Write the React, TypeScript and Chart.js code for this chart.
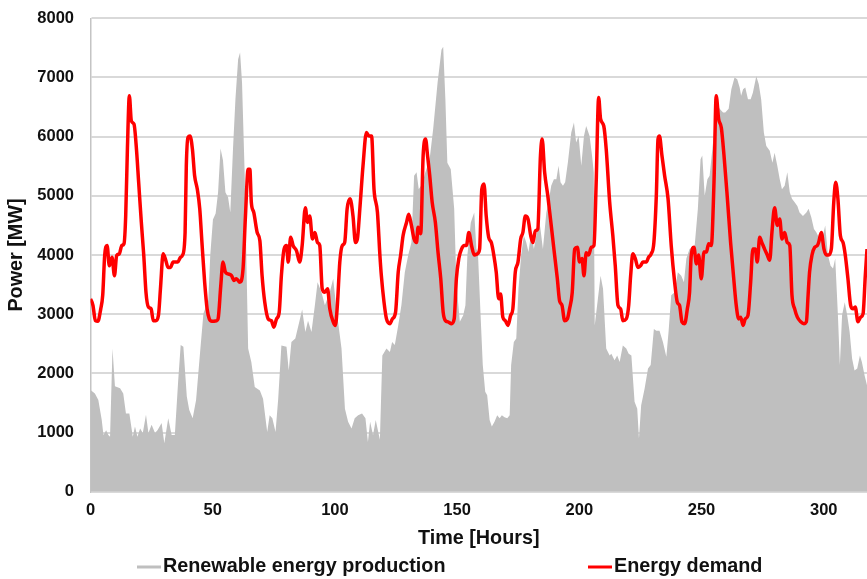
import React, { useEffect, useRef } from "react";
import { Chart, registerables } from "chart.js";

Chart.register(...registerables);

const seriesLabels = ["Renewable energy production", "Energy demand"];
const xAxisTitle = "Time [Hours]";
const yAxisTitle = "Power [MW]";

const demandHours = [
  0, 1, 2, 3, 4.2, 5, 5.8, 6.8, 7.7, 8.8, 9.8, 10.7, 11.8, 12.8, 13.7, 14.4, 15.1, 15.9, 16.7, 17.8,
  18.8, 19.7, 20.8, 21.8, 22.7, 23.7, 24.8, 25.7, 26.7, 27.8, 28.7, 29.7, 30.8, 31.7, 32.7, 33.8, 35.7, 36.8, 37.7, 38.7,
  39.2, 39.9, 40.7, 41.7, 42.6, 43.7, 44.7, 45.6, 46.7, 47.7, 48.6, 49.7, 51.6, 52.2, 53.3, 54.2, 55.2, 56.3, 57.7, 58.7,
  59.7, 61.1, 62.4, 63.4, 64.5, 65.2, 65.8, 66.8, 68.2, 69.3, 70.2, 71.3, 72.7, 74.0, 75, 76.1, 77.2, 78.1, 79.2, 80.2,
  80.9, 81.9, 82.9, 84.3, 85.6, 86.6, 87.9, 88.8, 89.7, 90.8, 91.8, 92.9, 93.8, 94.8, 95.9, 97, 97.9, 99.3, 100.2, 101,
  102, 103, 104, 105, 106.2, 107.4, 108.4, 109.2, 110.2, 111.5, 112.9, 113.9, 115, 116, 117.4, 118.4, 119, 120.1, 121.1, 122.5,
  123.5, 124.8, 125.9, 126.9, 127.9, 129.3, 130.2, 131.3, 132.4, 133.4, 134, 135.1, 136.1, 137.1, 137.9, 138.8, 139.8, 141.1, 142.2, 143.3,
  144.3, 145.2, 146.3, 147.7, 148.8, 149.7, 150.7, 151.8, 152.9, 153.8, 154.8, 155.9, 157, 158.3, 159.2, 160.1, 161, 161.9, 162.9, 164,
  165, 166, 167, 167.8, 168.7, 169.7, 170.8, 171.9, 172.8, 173.8, 174.9, 176, 176.9, 177.9, 179, 180.1, 181, 182, 183, 184.1,
  184.8, 185.8, 187.1, 188.2, 189.6, 191, 191.9, 192.9, 194, 195.1, 196, 197.1, 198.1, 199.2, 200.1, 201.1, 201.9, 202.8, 203.8, 204.9,
  206, 206.9, 207.9, 208.7, 210, 211, 212.4, 213.7, 214.7, 215.8, 216.9, 217.8, 219.2, 220.2, 221, 221.9, 222.9, 224, 225.1, 226,
  227.4, 228.3, 229.4, 230.5, 231.5, 232.2, 232.8, 233.8, 234.9, 236.3, 237.6, 239, 240.1, 241, 242, 243.1, 244.2, 245.1, 245.8, 246.9,
  247.9, 248.8, 249.9, 251, 252, 252.9, 254, 255.1, 256, 257, 258.1, 259.2, 260.5, 261.9, 263.3, 264.2, 265.2, 266, 267, 267.9,
  269, 270.1, 271, 272, 272.8, 273.8, 274.7, 275.8, 276.9, 277.9, 278.8, 279.9, 281, 282, 282.9, 284, 285.1, 286.1, 287, 288.1,
  289.2, 290.6, 291.9, 292.9, 293.6, 294.2, 295.2, 296.3, 297.4, 297.9, 299, 300.1, 301.1, 302, 303.1, 304.1, 304.9, 305.8, 306.8, 307.9,
  308.8, 309.9, 311, 312, 312.9, 314, 315.1, 316.1, 317, 317.7
];
const demandMW = [
  3260, 3150, 2890, 2880, 3090, 3320, 3990, 4160, 3820, 3960, 3650, 3990, 4020, 4160, 4190, 4660, 5790, 6690, 6270, 6210,
  5790, 5230, 4550, 3990, 3370, 3120, 3090, 2890, 2890, 2980, 3480, 4020, 3910, 3790, 3790, 3880, 3880, 3960, 4000, 4380,
  5510, 5990, 6010, 5790, 5340, 5110, 4780, 4210, 3540, 3090, 2920, 2880, 2890, 2920, 3480, 3880, 3710, 3680, 3650, 3570,
  3600, 3540, 3760, 4660, 5450, 5450, 4890, 4720, 4380, 4240, 3650, 3200, 2920, 2890, 2780, 2920, 3030, 3650, 4100, 4160,
  3880, 4300, 4160, 4070, 3880, 4160, 4800, 4550, 4660, 4270, 4380, 4210, 4160, 3430, 3370, 3430, 3090, 2870, 2810, 3150,
  3880, 4160, 4210, 4780, 4950, 4660, 4210, 4270, 4780, 5510, 6070, 6010, 6010, 5110, 4720, 4000, 3650, 3200, 2920, 2840,
  2920, 3030, 3710, 4000, 4330, 4550, 4690, 4500, 4270, 4210, 4470, 4360, 5680, 5960, 5680, 5340, 4890, 4550, 4040, 3600,
  3030, 2890, 2870, 2840, 2920, 3600, 3940, 4100, 4160, 4160, 4380, 4160, 4000, 4020, 4100, 5110, 5200, 4660, 4300, 4210,
  4000, 3710, 3260, 3340, 2950, 2890, 2810, 2980, 3090, 3710, 3880, 4270, 4380, 4660, 4610, 4330, 4210, 4410, 4440, 5680,
  5960, 5400, 5000, 4610, 4100, 3600, 3230, 3150, 2890, 2920, 3090, 3370, 4100, 4130, 3880, 3940, 3650, 4040, 4000, 4130,
  4160, 5230, 6660, 6300, 6180, 5790, 4900, 4330, 3820, 3150, 3090, 2890, 2920, 3150, 3650, 4020, 3940, 3790, 3820, 3880,
  3880, 3960, 4020, 4210, 5000, 5960, 6010, 5680, 5340, 4950, 4160, 3540, 3200, 3150, 2870, 2840, 3090, 3370, 4000, 4130,
  3850, 4000, 3600, 4050, 4050, 4190, 4160, 5230, 6690, 6300, 6150, 5680, 5000, 4210, 3540, 3150, 2920, 2950, 2810, 2920,
  2980, 3540, 4100, 4100, 3880, 4300, 4210, 4100, 4000, 3910, 4380, 4800, 4500, 4610, 4270, 4380, 4210, 4160, 3320, 3090,
  2950, 2870, 2840, 2870, 3320, 3710, 4000, 4130, 4160, 4210, 4380, 4100, 4000, 4000, 4100, 4890, 5230, 4950, 4330, 4210,
  4000, 3600, 3150, 3090, 3120, 2870, 2950, 3010, 3650, 4100
];

const renewableHours = [
  0, 1.8, 3.2, 4.6, 5.3, 6.4, 7.3, 8.0, 9.0, 10, 12.1, 13.4, 14.5, 15.9, 17.3, 18.2, 19.2, 20.3, 21.4, 22.7,
  23.7, 25.0, 26.4, 27.4, 29.1, 30.2, 31.8, 33.2, 34.5, 35.9, 36.9, 38.0, 39.4, 40.4, 41.8, 43.2, 44.8, 46.2, 48.2, 49,
  50.1, 51.2, 52.2, 53.2, 54.2, 55.2, 56.3, 57.2, 58.3, 59.3, 60.4, 61.2, 62, 63.1, 64.5, 65.8, 67.2, 69.3, 70.6, 72.3,
  73.3, 74.4, 75.7, 76.8, 78.1, 80.2, 81.1, 82.2, 83.8, 85.6, 86.6, 87.9, 89, 90.4, 91.8, 92.9, 94.5, 95.9, 97.9, 99.3,
  100.6, 102.7, 104.1, 105.4, 106.8, 108.1, 109.5, 111.1, 112.5, 113.5, 114.4, 115.6, 116.7, 118.4, 119.4, 121.1, 122.5, 123.4, 124.5, 125.9,
  127.2, 128.6, 130, 131.3, 132.4, 133.4, 134.3, 135.7, 137, 138.7, 140.2, 142, 143.6, 144.3, 145.2, 146, 147.4, 148.8, 149.7, 151.1,
  152.5, 153.4, 154.2, 155.6, 157, 157.9, 158.5, 159.6, 160.5, 161.5, 162.3, 163.3, 164.2, 165.3, 166.4, 167.4, 168.3, 169.4, 170.5, 171.5,
  172.1, 173.2, 174.2, 175.1, 176.2, 177.3, 178.3, 179.2, 180.3, 181.4, 182.4, 183.3, 184.1, 185.1, 186.5, 187.4, 188.5, 189.6, 190.6, 191.5,
  192.3, 193.3, 194.2, 195.3, 196.7, 197.8, 198.7, 199.7, 200.8, 201.9, 202.8, 204.2, 205.2, 205.9, 206.3, 207.6, 208.7, 209.7, 211, 212.4,
  213.1, 214.4, 215.5, 216.5, 217.8, 219.2, 220.2, 221.3, 222.6, 223.7, 224.4, 225.3, 226.7, 228.1, 229.2, 230.5, 231.5, 232.8, 234.2, 235.6,
  236.5, 237.6, 239, 240.3, 241.7, 242.8, 243.8, 245.1, 247.2, 248.5, 249.6, 250.3, 251.3, 252.4, 253.3, 254.7, 256, 257.4, 258.8, 259.7,
  261.1, 262.2, 263.5, 264.6, 265.6, 266.2, 267, 267.9, 269, 270.1, 271, 272.4, 273.4, 274.4, 275.5, 276.5, 277.9, 279, 279.9, 281,
  282, 282.9, 284, 285.1, 286.1, 287, 288.1, 289.2, 290.1, 291.5, 292.9, 293.8, 294.9, 296, 297, 298.3, 299.7, 300.6, 301.7, 302.8,
  303.8, 304.7, 305.8, 306.6, 307.5, 308.6, 309.6, 310.6, 311.6, 312.6, 313.7, 314.8, 315.6, 316.7, 317.7
];
const renewableMW = [
  1720, 1660, 1550, 1210, 960, 1040, 960, 930, 2420, 1780, 1750, 1660, 1320, 1320, 930, 1100, 930, 1070, 990, 1300,
  990, 1130, 990, 1040, 1160, 820, 1240, 960, 960, 1890, 2480, 2450, 1610, 1380, 1240, 1550, 2340, 3010, 3240, 4000,
  4600, 4700, 5060, 5800, 5600, 5060, 4970, 4720, 5790, 6630, 7310, 7420, 6910, 5340, 2420, 2190, 1770, 1710, 1570, 1010,
  1290, 1240, 1010, 1570, 2470, 2450, 2050, 2530, 2590, 2900, 3080, 2700, 2890, 2700, 3150, 3540, 3370, 3150, 3370, 3600,
  3090, 2420, 1400, 1180, 1070, 1240, 1290, 1320, 1240, 840, 1180, 960, 1210, 880, 2300, 2420, 2360, 2530, 2480, 2810,
  3150, 3710, 4000, 4210, 5340, 5400, 5110, 5200, 5400, 5600, 6130, 6910, 7470, 7520, 6630, 5560, 5450, 4780, 3540, 2870,
  2980, 3150, 4000, 4550, 4720, 4100, 4050, 2980, 2140, 1690, 1630, 1210, 1100, 1180, 1290, 1240, 1290, 1260, 1240, 1290,
  2140, 2530, 2590, 3430, 4000, 4330, 4210, 4050, 4380, 4100, 4330, 4660, 4440, 4100, 4720, 4890, 5170, 5280, 5280, 5510,
  5230, 5170, 5230, 5560, 6070, 6240, 5900, 6010, 5510, 6010, 6180, 6010, 5680, 5400, 2810, 3260, 3650, 3430, 2420, 2300,
  2330, 2220, 2300, 2190, 2470, 2420, 2330, 2300, 1520, 1400, 900, 1460, 1740, 2080, 2140, 2750, 2720, 2720, 2530, 2280,
  2700, 3320, 3370, 3710, 3650, 3540, 3940, 4100, 4160, 4780, 5620, 5680, 5000, 5280, 5340, 5900, 6580, 6470, 6410, 6410,
  6470, 6800, 7000, 6970, 6830, 6690, 6800, 6830, 6630, 6630, 6740, 7020, 6890, 6630, 6070, 5840, 5760, 5560, 5730, 5510,
  5280, 5110, 5170, 5400, 5060, 4950, 4890, 4830, 4720, 4660, 4720, 4780, 4640, 4440, 4380, 4270, 4330, 4500, 4000, 3820,
  3770, 3940, 2980, 2140, 2980, 3200, 2980, 2700, 2250, 2050, 2080, 2300, 2190, 1970, 1800
];

const xTickValues = [0, 50, 100, 150, 200, 250, 300];
const xMax = 317.7;
const yMin = 0;
const yMax = 8000;
const yStep = 1000;

const FONT = "Arial, 'Liberation Sans', Helvetica, sans-serif";
const TEXT = "#111111";
const GRAY = "#bfbfbf";
const RED = "#ff0000";

const legendPlugin = {
  id: "bottomLegend",
  afterDraw(chart: any) {
    const ctx = chart.ctx;
    const starts = [137, 588];
    const colors = [GRAY, RED];
    const y = 567;
    ctx.save();
    ctx.font = `bold 19.8px ${FONT}`;
    ctx.textBaseline = "middle";
    ctx.textAlign = "left";
    chart.data.datasets.forEach((ds: any, i: number) => {
      ctx.strokeStyle = colors[i];
      ctx.lineWidth = 3;
      ctx.beginPath();
      ctx.moveTo(starts[i], y);
      ctx.lineTo(starts[i] + 24, y);
      ctx.stroke();
      ctx.fillStyle = TEXT;
      ctx.fillText(ds.label, starts[i] + 26, y);
    });
    ctx.restore();
  },
};

export default function App() {
  const ref = useRef<HTMLCanvasElement | null>(null);
  useEffect(() => {
    if (!ref.current) return;
    const renewable = renewableHours.map((h, i) => ({ x: h, y: renewableMW[i] }));
    const demand = demandHours.map((h, i) => ({ x: h, y: demandMW[i] }));
    const chart = new Chart(ref.current, {
      type: "line",
      data: {
        datasets: [
          {
            label: seriesLabels[0],
            data: renewable,
            borderWidth: 0,
            borderColor: GRAY,
            backgroundColor: GRAY,
            fill: "origin",
            pointRadius: 0,
            tension: 0,
            order: 2,
          },
          {
            label: seriesLabels[1],
            data: demand,
            borderWidth: 3.5,
            borderColor: RED,
            backgroundColor: RED,
            fill: false,
            pointRadius: 0,
            cubicInterpolationMode: "monotone",
            order: 1,
          },
        ],
      },
      options: {
        animation: false,
        responsive: false,
        maintainAspectRatio: false,
        devicePixelRatio: 1,
        layout: { padding: { top: 18.3, left: 0, right: 0, bottom: 29 } },
        plugins: { legend: { display: false }, tooltip: { enabled: false } },
        scales: {
          x: {
            type: "linear",
            min: 0,
            max: xMax,
            afterBuildTicks: (axis: any) => {
              axis.ticks = xTickValues.map((v) => ({ value: v }));
            },
            afterFit: (axis: any) => {
              axis.height = 58.3;
              axis.paddingLeft = 0;
              axis.paddingRight = 0;
            },
            ticks: {
              padding: 9.3,
              maxRotation: 0,
              color: TEXT,
              font: { family: FONT, size: 16.5, weight: "bold" },
            },
            grid: { display: false, drawTicks: false },
            border: { display: false },
            title: {
              display: true,
              text: xAxisTitle,
              color: TEXT,
              font: { family: FONT, size: 19.8, weight: "bold" },
              padding: { top: 0, bottom: 0 },
            },
          },
          y: {
            min: yMin,
            max: yMax,
            afterFit: (axis: any) => {
              axis.width = 90.5;
              axis.paddingTop = 0;
              axis.paddingBottom = 0;
            },
            ticks: {
              stepSize: yStep,
              padding: 16.5,
              color: TEXT,
              font: { family: FONT, size: 16.5, weight: "bold" },
              callback: (v: any) => String(v),
            },
            grid: { color: "#d9d9d9", lineWidth: 2, drawTicks: false },
            border: { display: true, color: "#c4c4c4", width: 1.5 },
            title: {
              display: true,
              text: yAxisTitle,
              color: TEXT,
              font: { family: FONT, size: 19.8, weight: "bold" },
              padding: { top: 5, bottom: 0 },
            },
          },
        },
      },
      plugins: [legendPlugin],
    });
    return () => chart.destroy();
  }, []);

  return (
    <div style={{ position: "fixed", left: 0, top: 0, width: 867, height: 579, background: "#fff" }}>
      <canvas ref={ref} width={867} height={579} style={{ width: 867, height: 579, display: "block" }} />
    </div>
  );
}
